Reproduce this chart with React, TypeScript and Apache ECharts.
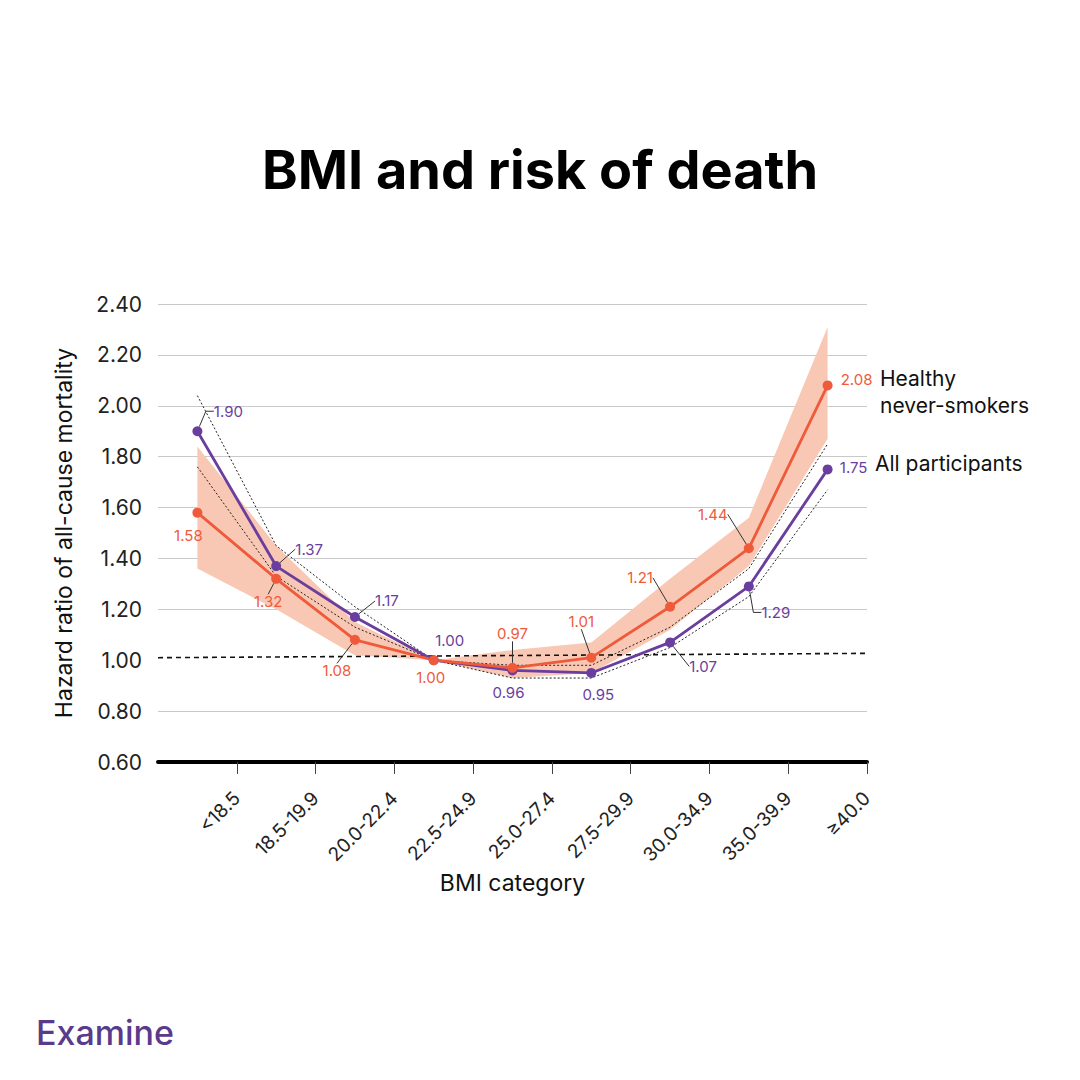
import React, { useEffect, useRef } from 'react';
import * as echarts from 'echarts';

const categories = ['<18.5', '18.5-19.9', '20.0-22.4', '22.5-24.9', '25.0-27.4', '27.5-29.9', '30.0-34.9', '35.0-39.9', '≥40.0'];
const healthyHR = [1.58, 1.32, 1.08, 1.0, 0.97, 1.01, 1.21, 1.44, 2.08];
const healthyLow = [1.36, 1.2, 1.02, 1.0, 0.93, 0.95, 1.12, 1.37, 1.87];
const healthyHigh = [1.84, 1.45, 1.15, 1.0, 1.04, 1.07, 1.32, 1.56, 2.31];
const allHR = [1.9, 1.37, 1.17, 1.0, 0.96, 0.95, 1.07, 1.29, 1.75];
const allLow = [1.76, 1.33, 1.13, 1.0, 0.93, 0.93, 1.05, 1.25, 1.67];
const allHigh = [2.04, 1.45, 1.21, 1.0, 0.98, 0.98, 1.13, 1.36, 1.85];
const refLineEnds = [1.01, 1.027];
const yMin = 0.6;
const yMax = 2.4;
const yStep = 0.2;

// label placement (styles, not data)
const healthyLabelOffsets = [[-9, 23], [-8, 23], [-18, 31], [-3, 17], [0, -34], [-10, -36], [-30, -29], [-36, -34], [29, -6]];
const healthyLeader = [false, true, true, false, true, true, true, true, false];
const allLabelOffsets = [[31, -20], [33, -17], [32, -16], [16, -20], [-4, 22], [7, 22], [33, 24], [27, 26], [26, -2]];
const allLeader = [true, true, true, false, false, false, true, true, false];
const allLeaderElbow = [8, 0, 0, 0, 0, 0, 0, 8, 0];

const ORANGE = '#ef5a3b';
const PURPLE = '#6a3e9e';
const BAND = '#f9c8b4';
const FONT = 'Inter, "Noto Sans", sans-serif';

function makeLine(name: string, values: number[], color: string, offsets: number[][], leader: boolean[], elbow: number[] | null) {
  return {
    name,
    type: 'line',
    xAxisIndex: 0,
    yAxisIndex: 0,
    data: values.map((v, i) => ({
      value: [i + 0.5, v],
      labelLine: { show: leader[i], length2: elbow ? elbow[i] : 0 },
    })),
    symbol: 'circle',
    symbolSize: 10,
    lineStyle: { color, width: 2.8 },
    itemStyle: { color },
    label: {
      show: true,
      color,
      fontSize: 15,
      fontFamily: FONT,
      formatter: (p: any) => p.value[1].toFixed(2),
    },
    labelLine: { show: true, length2: 0, lineStyle: { color: '#333', width: 1 } },
    labelLayout: (p: any) => {
      const o = offsets[p.dataIndex];
      return {
        x: p.rect.x + p.rect.width / 2 + o[0],
        y: p.rect.y + p.rect.height / 2 + o[1],
        align: 'center',
        verticalAlign: 'middle',
      };
    },
    z: 5,
  };
}

function makeDotted(values: number[]) {
  return {
    type: 'line',
    xAxisIndex: 0,
    yAxisIndex: 0,
    data: values.map((v, i) => [i + 0.5, v]),
    symbol: 'none',
    silent: true,
    lineStyle: { color: '#222', width: 1, type: [2, 2] },
    z: 3,
  };
}

export default function App() {
  const ref = useRef<HTMLDivElement>(null);
  useEffect(() => {
    if (!ref.current) return;
    const chart = echarts.init(ref.current, null, { renderer: 'svg' });
    const gridColors: string[] = [];
    const nLines = Math.round((yMax - yMin) / yStep) + 1;
    for (let i = 0; i < nLines; i++) {
      const v = yMin + i * yStep;
      gridColors.push(Math.abs(v - 1) < 1e-6 ? 'rgba(0,0,0,0)' : '#c9c9c9');
    }
    chart.setOption({
      animation: false,
      backgroundColor: '#ffffff',
      textStyle: { fontFamily: FONT },
      title: {
        text: 'BMI and risk of death',
        left: 'center',
        top: 137,
        textStyle: { fontSize: 54, fontWeight: 700, color: '#000', fontFamily: FONT },
      },
      grid: { left: 158, right: 213, top: 304, bottom: 318, containLabel: false },
      xAxis: [
        {
          type: 'value',
          min: 0,
          max: 9,
          show: false,
          position: 'bottom',
          splitLine: { show: false },
        },
        {
          type: 'category',
          position: 'bottom',
          data: [''].concat(categories),
          boundaryGap: false,
          axisLine: { show: true, lineStyle: { color: '#000', width: 4 } },
          axisTick: { show: true, interval: (i: number) => i > 0, length: 12, lineStyle: { color: '#444', width: 1 } },
          axisLabel: { interval: 0, rotate: 45, fontSize: 19, color: '#222', margin: 33, fontFamily: FONT },
          splitLine: { show: false },
          name: 'BMI category',
          nameLocation: 'middle',
          nameGap: 109,
          nameTextStyle: { fontSize: 23, color: '#111', fontFamily: FONT },
        },
      ],
      yAxis: {
        type: 'value',
        min: yMin,
        max: yMax,
        interval: yStep,
        axisLine: { show: false },
        axisTick: { show: false },
        splitLine: { show: true, lineStyle: { color: gridColors, width: 1 } },
        axisLabel: { formatter: (v: number) => v.toFixed(2), fontSize: 21, color: '#222', margin: 16, fontFamily: FONT },
        name: 'Hazard ratio of all-cause mortality',
        nameLocation: 'middle',
        nameGap: 83,
        nameTextStyle: { fontSize: 23, color: '#111', fontFamily: FONT },
      },
      series: [
        {
          type: 'custom',
          xAxisIndex: 0,
          yAxisIndex: 0,
          silent: true,
          data: healthyHR.map((_, i) => [i + 0.5, healthyLow[i], healthyHigh[i]]),
          encode: { x: 0, y: [1, 2] },
          renderItem: (params: any, api: any) => {
            if (params.dataIndex !== 0) return null;
            const upper = healthyHigh.map((v, i) => api.coord([i + 0.5, v]));
            const lower = healthyLow.map((v, i) => api.coord([i + 0.5, v])).reverse();
            return { type: 'polygon', shape: { points: upper.concat(lower) }, style: { fill: BAND } };
          },
          z: 1,
        },
        makeDotted(allLow),
        makeDotted(allHigh),
        {
          type: 'line',
          xAxisIndex: 0,
          yAxisIndex: 0,
          data: [[0, refLineEnds[0]], [9, refLineEnds[1]]],
          symbol: 'none',
          silent: true,
          lineStyle: { color: '#111', width: 1.6, type: [5, 4] },
          z: 4,
        },
        makeLine('All participants', allHR, PURPLE, allLabelOffsets, allLeader, allLeaderElbow),
        makeLine('Healthy never-smokers', healthyHR, ORANGE, healthyLabelOffsets, healthyLeader, null),
      ],
      graphic: [
        {
          type: 'text',
          left: 880,
          top: 365,
          style: { text: 'Healthy\nnever-smokers', fontSize: 21, lineHeight: 27, fill: '#111', fontFamily: FONT },
        },
        {
          type: 'text',
          left: 875,
          top: 453,
          style: { text: 'All participants', fontSize: 21, fill: '#111', fontFamily: FONT },
        },
        {
          type: 'text',
          left: 36,
          top: 1015,
          style: { text: 'Examine', fontSize: 34, fontWeight: 500, fill: '#5a3a8a', fontFamily: FONT },
        },
      ],
    });
    return () => chart.dispose();
  }, []);
  return <div ref={ref} style={{ position: 'fixed', left: 0, top: 0, width: 1080, height: 1080, background: '#fff' }} />;
}
